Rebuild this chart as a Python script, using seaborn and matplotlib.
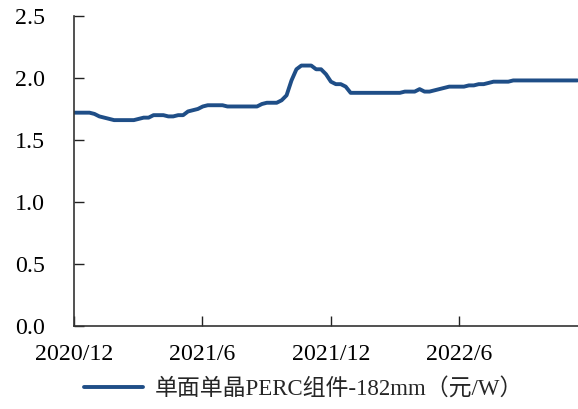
import matplotlib.pyplot as plt
import pandas as pd
import seaborn as sns

# Weekly price of single-side mono PERC module 182mm (yuan/W)
start_date = "2020-12-02"
prices = [
    1.72, 1.72, 1.72, 1.72, 1.71, 1.69, 1.68, 1.67, 1.66, 1.66,
    1.66, 1.66, 1.66, 1.67, 1.68, 1.68, 1.70, 1.70, 1.70, 1.69,
    1.69, 1.70, 1.70, 1.73, 1.74, 1.75, 1.77, 1.78, 1.78, 1.78,
    1.78, 1.77, 1.77, 1.77, 1.77, 1.77, 1.77, 1.77, 1.79, 1.80,
    1.80, 1.80, 1.82, 1.86, 1.98, 2.07, 2.10, 2.10, 2.10, 2.07,
    2.07, 2.03, 1.97, 1.95, 1.95, 1.93, 1.88, 1.88, 1.88, 1.88,
    1.88, 1.88, 1.88, 1.88, 1.88, 1.88, 1.88, 1.89, 1.89, 1.89,
    1.91, 1.89, 1.89, 1.90, 1.91, 1.92, 1.93, 1.93, 1.93, 1.93,
    1.94, 1.94, 1.95, 1.95, 1.96, 1.97, 1.97, 1.97, 1.97, 1.98,
    1.98, 1.98, 1.98, 1.98, 1.98, 1.98, 1.98, 1.98, 1.98, 1.98,
    1.98, 1.98, 1.98,
]
series_label = "单面单晶PERC组件-182mm（元/W）"
tick_dates = ["2020-12-01", "2021-06-01", "2021-12-01", "2022-06-01"]
tick_labels = ["2020/12", "2021/6", "2021/12", "2022/6"]

df = pd.DataFrame({
    "date": pd.date_range(start_date, periods=len(prices), freq="7D"),
    "price": prices,
})

sns.set_theme(style="ticks")
plt.rcParams["font.family"] = ["Liberation Serif", "Noto Sans CJK SC"]

fig = plt.figure(figsize=(5.78, 4.09), dpi=100)
ax = fig.add_axes([0.128, 0.203, 0.872, 0.758])

sns.lineplot(data=df, x="date", y="price", ax=ax, color="#1F4E87",
             linewidth=2.8, label=series_label)

ax.set_xlim(pd.Timestamp("2020-12-01"), pd.Timestamp("2022-11-17"))
ax.set_ylim(0, 2.5)
ax.set_yticks([0, 0.5, 1.0, 1.5, 2.0, 2.5])
ax.set_yticklabels(["0.0", "0.5", "1.0", "1.5", "2.0", "2.5"])
ax.set_xticks([pd.Timestamp(d) for d in tick_dates])
ax.set_xticklabels(tick_labels)
ax.set_xlabel("")
ax.set_ylabel("")
ax.tick_params(axis="both", direction="in", length=7, width=1, labelsize=17.2,
               colors="#222222", labelcolor="black")
ax.tick_params(axis="x", pad=13)
ax.tick_params(axis="y", pad=21)
for side in ["left", "bottom"]:
    ax.spines[side].set_linewidth(1.2)
    ax.spines[side].set_color("#333333")
sns.despine(ax=ax)

ax.legend(loc="upper center", bbox_to_anchor=(0.455, -0.115), frameon=False,
          fontsize=16.5, handlelength=2.6, handletextpad=0.5, borderpad=0.2)

fig.savefig("out.png", dpi=100)
